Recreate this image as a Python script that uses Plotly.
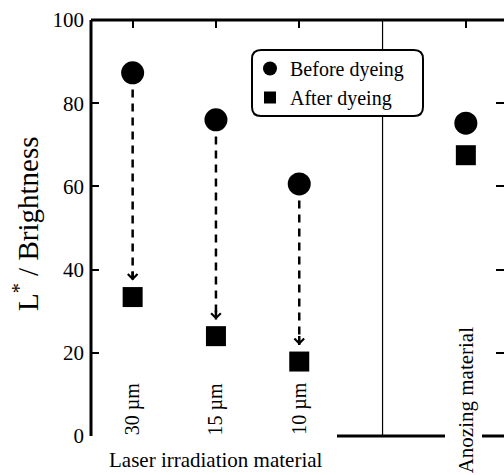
import plotly.graph_objects as go

# ---- data ----
x_laser = [1, 2, 3]
laser_labels = ["30 µm", "15 µm", "10 µm"]
before_laser = [87.3, 76.0, 60.6]
after_laser = [33.4, 24.0, 17.9]
x_anod = [5]
before_anod = [75.2]
after_anod = [67.5]
y_ticks = [0, 20, 40, 60, 80, 100]
x_ticks = [1, 2, 3, 5]
divider_x = 4
group_label = "Laser irradiation material"
anod_label = "Anozing material"

# ---- layout constants ----
W, H = 504, 475
ML, MT, MB, MR = 91, 20, 39, 0
PW, PH = W - ML - MR, H - MT - MB
FONT = "'Liberation Serif', 'Times New Roman', Times, 'DejaVu Serif', serif"
GAP = 4.0  # data units between marker centre and arrow ends


def px2paper_x(px):
    return (px - ML) / PW


def px2paper_y(py):
    return (H - MB - py) / PH


fig = go.Figure()

# dashed arrows (shafts)
for xi, b, a in zip(x_laser, before_laser, after_laser):
    fig.add_trace(go.Scatter(x=[xi, xi], y=[b - GAP, a + GAP], mode="lines",
                             line=dict(color="black", width=2.5, dash="8px,6px"),
                             showlegend=False, hoverinfo="skip"))

# markers
fig.add_trace(go.Scatter(x=x_laser + x_anod, y=before_laser + before_anod, mode="markers",
                         marker=dict(symbol="circle", size=23, color="black"),
                         showlegend=False, name="Before dyeing"))
fig.add_trace(go.Scatter(x=x_laser + x_anod, y=after_laser + after_anod, mode="markers",
                         marker=dict(symbol="square", size=20, color="black"),
                         showlegend=False, name="After dyeing"))
# legend entries
fig.add_trace(go.Scatter(x=[None], y=[None], mode="markers", name="Before dyeing",
                         marker=dict(symbol="circle", size=14, color="black")))
fig.add_trace(go.Scatter(x=[None], y=[None], mode="markers", name="After dyeing",
                         marker=dict(symbol="square", size=12, color="black")))

annotations = []
# arrow heads
for xi, a in zip(x_laser, after_laser):
    annotations.append(dict(x=xi, y=a + GAP, ax=xi, ay=a + GAP + 2.5, xref="x", yref="y",
                            axref="x", ayref="y", text="", showarrow=True, arrowhead=4,
                            arrowsize=0.75, arrowwidth=2.5, arrowcolor="black"))
# rotated category labels
for xi, lab in zip(x_laser, laser_labels):
    annotations.append(dict(x=xi, y=0, xref="x", yref="y", yanchor="bottom", xanchor="center",
                            text=lab, textangle=-90, showarrow=False, yshift=-1,
                            font=dict(family=FONT, size=20, color="black")))
annotations.append(dict(x=x_anod[0], y=px2paper_y(324), xref="x", yref="paper", yanchor="top",
                        xanchor="center", text=anod_label, textangle=-90, showarrow=False,
                        font=dict(family=FONT, size=21, color="black")))
annotations.append(dict(x=2, y=px2paper_y(460), xref="x", yref="paper", yanchor="middle",
                        xanchor="center", text=group_label, showarrow=False,
                        font=dict(family=FONT, size=21, color="black")))
annotations.append(dict(x=px2paper_x(26), y=px2paper_y(224), xref="paper", yref="paper",
                        xanchor="center", yanchor="middle", text="L<sup>*</sup> / Brightness",
                        textangle=-90, showarrow=False,
                        font=dict(family=FONT, size=29, color="black")))

# frame lines
shapes = [
    dict(type="line", xref="paper", yref="paper", x0=0, x1=0, y0=0, y1=1,
         line=dict(color="black", width=3)),
    dict(type="line", xref="paper", yref="paper", x0=0, x1=1, y0=1, y1=1,
         line=dict(color="black", width=3)),
    dict(type="line", xref="x", yref="y", x0=divider_x, x1=divider_x, y0=0, y1=100,
         line=dict(color="black", width=1.2)),
    dict(type="line", xref="paper", yref="paper", x0=px2paper_x(337), x1=px2paper_x(445),
         y0=0, y1=0, line=dict(color="black", width=3)),
    dict(type="line", xref="paper", yref="paper", x0=px2paper_x(482), x1=1,
         y0=0, y1=0, line=dict(color="black", width=3)),
]
# rounded legend box
bx0, bx1 = px2paper_x(252), px2paper_x(423)
by1, by0 = px2paper_y(50), px2paper_y(116)
rx, ry = 9 / PW, 9 / PH
path = (f"M{bx0+rx},{by1} L{bx1-rx},{by1} Q{bx1},{by1} {bx1},{by1-ry} "
        f"L{bx1},{by0+ry} Q{bx1},{by0} {bx1-rx},{by0} L{bx0+rx},{by0} "
        f"Q{bx0},{by0} {bx0},{by0+ry} L{bx0},{by1-ry} Q{bx0},{by1} {bx0+rx},{by1} Z")
shapes.append(dict(type="path", xref="paper", yref="paper", path=path, fillcolor="white",
                   line=dict(color="black", width=2), layer="above"))

x_range_max = 0.5 + PW / 83.3

fig.update_layout(
    width=W, height=H, margin=dict(l=ML, r=MR, t=MT, b=MB),
    plot_bgcolor="white", paper_bgcolor="white",
    font=dict(family=FONT, color="black"),
    xaxis=dict(range=[0.5, x_range_max], tickvals=x_ticks, showticklabels=False,
               ticks="inside", ticklen=8, tickwidth=2, tickcolor="black", side="top",
               showgrid=False, zeroline=False, showline=False),
    yaxis=dict(range=[0, 100], tickvals=y_ticks, ticks="inside", ticklen=8, tickwidth=2,
               tickcolor="black", mirror="ticks", showgrid=False, zeroline=False,
               showline=False, tickfont=dict(family=FONT, size=21, color="black"),
               ticklabelstandoff=6),
    legend=dict(x=px2paper_x(250), y=px2paper_y(49), xanchor="left", yanchor="top",
                bgcolor="rgba(0,0,0,0)", borderwidth=0, itemwidth=30,
                font=dict(family=FONT, size=20, color="black"), tracegroupgap=0),
    annotations=annotations,
    shapes=shapes,
    showlegend=True,
)

fig.write_html("out.html")
